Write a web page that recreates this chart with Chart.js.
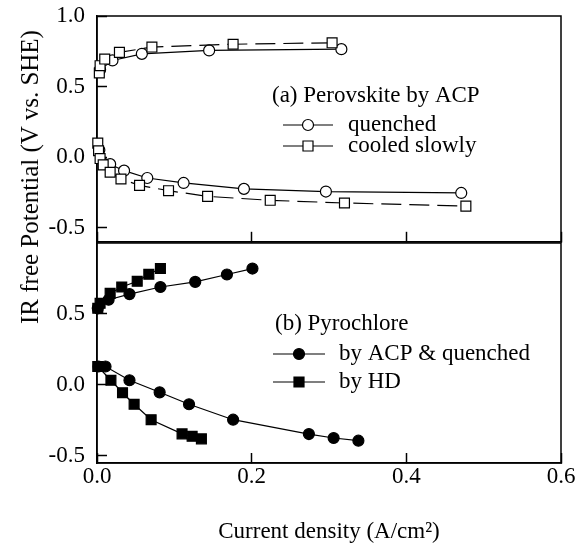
<!DOCTYPE html>
<html>
<head>
<meta charset="utf-8">
<script src="https://cdn.jsdelivr.net/npm/chart.js@4.4.0/dist/chart.umd.min.js"></script>
<style>
  body { margin: 0; background: #fff; }
  #wrap { position: relative; width: 576px; height: 555px; }
  canvas { position: absolute; left: 0; }
  #ytitle {
    position: absolute; left: 30px; top: 177px;
    transform: translate(-50%, -50%) rotate(-90deg);
    font: 25px "Liberation Serif", "Times New Roman", serif;
    white-space: nowrap; color: #000;
  }
</style>
</head>
<body>
<div id="wrap">
  <canvas id="chart_a" width="576" height="250" style="top:0"></canvas>
  <canvas id="chart_b" width="576" height="325" style="top:230px"></canvas>
  <div id="ytitle">IR free Potential (V vs. SHE)</div>
</div>
<script>
// tick values
const xTicks = [0, 0.2, 0.4, 0.6];
const aTicks = [-0.5, 0, 0.5, 1.0];
const bTicks = [-0.5, 0, 0.5];

// (a) Perovskite by ACP
const aQuenchedUpX = [0.004, 0.02, 0.058, 0.145, 0.316];
const aQuenchedUpY = [0.62, 0.685, 0.732, 0.756, 0.765];
const aCooledUpX = [0.003, 0.004, 0.01, 0.029, 0.071, 0.176, 0.304];
const aCooledUpY = [0.596, 0.648, 0.695, 0.742, 0.78, 0.80, 0.81];
const aQuenchedDownX = [0.003, 0.017, 0.035, 0.065, 0.112, 0.19, 0.296, 0.471];
const aQuenchedDownY = [0.05, -0.05, -0.096, -0.148, -0.183, -0.225, -0.244, -0.254];
const aCooledDownX = [0.001, 0.002, 0.004, 0.008, 0.017, 0.031, 0.055, 0.0925, 0.143, 0.224, 0.32, 0.477];
const aCooledDownY = [0.099, 0.045, -0.01, -0.055, -0.107, -0.155, -0.2, -0.238, -0.278, -0.306, -0.325, -0.347];

// (b) Pyrochlore
const bAcpUpX = [0.001, 0.015, 0.042, 0.082, 0.127, 0.168, 0.201];
const bAcpUpY = [0.54, 0.60, 0.64, 0.69, 0.726, 0.778, 0.82];
const bHdUpX = [0.001, 0.004, 0.017, 0.032, 0.052, 0.067, 0.082];
const bHdUpY = [0.54, 0.575, 0.645, 0.69, 0.73, 0.78, 0.82];
const bAcpDownX = [0.002, 0.011, 0.042, 0.081, 0.119, 0.176, 0.274, 0.306, 0.338];
const bAcpDownY = [0.13, 0.13, 0.033, -0.052, -0.136, -0.245, -0.346, -0.374, -0.393];
const bHdDownX = [0.001, 0.018, 0.033, 0.048, 0.07, 0.11, 0.123, 0.135];
const bHdDownY = [0.13, 0.033, -0.055, -0.136, -0.245, -0.345, -0.362, -0.38];

const FONT = '"Liberation Serif", "Times New Roman", serif';
Chart.defaults.font.family = FONT;
Chart.defaults.font.size = 23;
Chart.defaults.color = '#000';

function series(label, xs, ys, style, filled, dashed) {
    return {
        label: label,
        data: xs.map((x, i) => ({ x: x, y: ys[i] })),
        showLine: true,
        borderColor: '#000',
        borderWidth: 1.2,
        borderDash: dashed ? [20, 8] : [],
        pointStyle: style,
        pointRadius: style === 'rect' ? 7 : 5.5,
        pointBackgroundColor: filled ? '#000' : '#fff',
        pointBorderColor: '#000',
        pointBorderWidth: 1.2,
        tension: 0,
        clip: false,
    };
}

function drawMarker(ctx, style, filled, x, y) {
    ctx.beginPath();
    if (style === 'circle') {
        ctx.arc(x, y, 5.5, 0, Math.PI * 2);
    } else {
        ctx.rect(x - 5, y - 5, 10, 10);
    }
    ctx.fillStyle = filled ? '#000' : '#fff';
    ctx.fill();
    ctx.stroke();
}

// box round the plot area
const frame = {
    id: 'frame',
    beforeDatasetsDraw(chart) {
        const a = chart.chartArea, ctx = chart.ctx;
        ctx.save();
        ctx.strokeStyle = '#000';
        ctx.lineWidth = 1.5;
        ctx.strokeRect(a.left, a.top, a.right - a.left, a.bottom - a.top);
        ctx.restore();
    }
};

// legend inside the panel
const panelLegend = {
    id: 'panelLegend',
    afterDraw(chart, args, opts) {
        const ctx = chart.ctx;
        ctx.save();
        ctx.font = '23px ' + FONT;
        ctx.textBaseline = 'middle';
        ctx.fillStyle = '#000';
        ctx.fillText(opts.title, opts.titleX, opts.titleY);
        opts.rows.forEach(function (row) {
            ctx.strokeStyle = '#000';
            ctx.lineWidth = 1.2;
            ctx.beginPath();
            ctx.moveTo(opts.lineX0, row.y);
            ctx.lineTo(opts.lineX1, row.y);
            ctx.stroke();
            drawMarker(ctx, row.style, row.filled, opts.markX, row.y);
            ctx.fillStyle = '#000';
            ctx.fillText(row.label, opts.textX, row.y);
        });
        ctx.restore();
    }
};

function noPad(s) {
    s.paddingTop = 0; s.paddingBottom = 0;
    s.paddingLeft = 0; s.paddingRight = 0;
}

function xScale(showLabels, height) {
    return {
        type: 'linear', min: 0, max: 0.6,
        afterFit: function (s) { s.height = height; noPad(s); },
        afterBuildTicks: function (s) { s.ticks = xTicks.map(v => ({ value: v })); },
        ticks: { display: showLabels, padding: 10, callback: v => v.toFixed(1) },
        grid: { drawOnChartArea: false, tickLength: -10, tickColor: '#000', tickWidth: 1.5 },
        border: { color: '#000', width: 1.5 },
        title: {
            display: showLabels, text: 'Current density (A/cm\u00b2)',
            padding: { top: 0, bottom: 9 }
        }
    };
}

function yScale(min, max, ticks) {
    return {
        min: min, max: max,
        afterFit: function (s) { s.width = 97; noPad(s); },
        afterBuildTicks: function (s) { s.ticks = ticks.map(v => ({ value: v })); },
        ticks: { padding: 22, callback: v => v.toFixed(1) },
        grid: { drawOnChartArea: false, tickLength: -10, tickColor: '#000', tickWidth: 1.5 },
        border: { color: '#000', width: 1.5 }
    };
}

new Chart(document.getElementById('chart_a'), {
    type: 'scatter',
    data: {
        datasets: [
            series('cooled slowly', aCooledUpX, aCooledUpY, 'rect', false, true),
            series('cooled slowly', aCooledDownX, aCooledDownY, 'rect', false, true),
            series('quenched', aQuenchedUpX, aQuenchedUpY, 'circle', false, false),
            series('quenched', aQuenchedDownX, aQuenchedDownY, 'circle', false, false),
        ]
    },
    options: {
        responsive: false,
        animation: false,
        devicePixelRatio: 1,
        layout: { padding: { top: 16, right: 15, left: 0, bottom: 0 } },
        scales: { x: xScale(false, 7), y: yScale(-0.6, 1.0, aTicks) },
        plugins: {
            legend: { display: false },
            tooltip: { enabled: false },
            panelLegend: {
                title: '(a) Perovskite by ACP', titleX: 272, titleY: 96,
                lineX0: 283, lineX1: 333, markX: 308, textX: 348,
                rows: [
                    { label: 'quenched', style: 'circle', filled: false, y: 125 },
                    { label: 'cooled slowly', style: 'rect', filled: false, y: 146 }
                ]
            }
        }
    },
    plugins: [frame, panelLegend]
});

new Chart(document.getElementById('chart_b'), {
    type: 'scatter',
    data: {
        datasets: [
            series('by HD', bHdUpX, bHdUpY, 'rect', true, false),
            series('by HD', bHdDownX, bHdDownY, 'rect', true, false),
            series('by ACP & quenched', bAcpUpX, bAcpUpY, 'circle', true, false),
            series('by ACP & quenched', bAcpDownX, bAcpDownY, 'circle', true, false),
        ]
    },
    options: {
        responsive: false,
        animation: false,
        devicePixelRatio: 1,
        layout: { padding: { top: 13, right: 15, left: 0, bottom: 0 } },
        scales: { x: xScale(true, 92), y: yScale(-0.55, 1.0, bTicks) },
        plugins: {
            legend: { display: false },
            tooltip: { enabled: false },
            panelLegend: {
                title: '(b) Pyrochlore', titleX: 275, titleY: 94,
                lineX0: 273, lineX1: 325, markX: 299, textX: 339,
                rows: [
                    { label: 'by ACP & quenched', style: 'circle', filled: true, y: 124 },
                    { label: 'by HD', style: 'rect', filled: true, y: 152 }
                ]
            }
        }
    },
    plugins: [frame, panelLegend]
});
</script>
</body>
</html>
